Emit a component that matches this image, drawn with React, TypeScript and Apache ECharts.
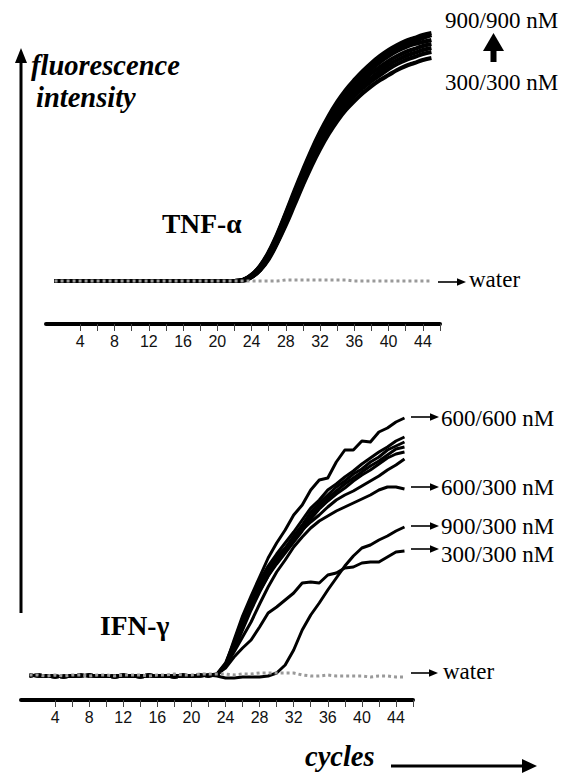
import React, { useEffect, useRef } from "react";
import * as echarts from "echarts";

// PCR cycle numbers (x values)
const cycles = [1, 2, 3, 4, 5, 6, 7, 8, 9, 10, 11, 12, 13, 14, 15, 16, 17, 18, 19, 20, 21, 22, 23, 24, 25, 26, 27, 28, 29, 30, 31, 32, 33, 34, 35, 36, 37, 38, 39, 40, 41, 42, 43, 44, 45];
const tickValues = [4, 6, 8, 10, 12, 14, 16, 18, 20, 22, 24, 26, 28, 30, 32, 34, 36, 38, 40, 42, 44, 46];
const tickLabels = [4, 8, 12, 16, 20, 24, 28, 32, 36, 40, 44];

// TNF-alpha amplification curves (fluorescence, arbitrary units)
const z22 = [0, 0, 0, 0, 0, 0, 0, 0, 0, 0, 0, 0, 0, 0, 0, 0, 0, 0, 0, 0, 0, 0];
const tnf1 = [...z22, 1, 6, 15, 29, 47, 68, 90, 111, 131, 149, 165, 179, 191, 201, 210, 218, 225, 231, 236, 240, 243, 246, 248];
const tnf2 = [...z22, 1, 6, 15, 28, 46, 67, 88, 109, 129, 147, 162, 176, 188, 198, 207, 215, 222, 228, 233, 237, 240, 243, 246];
const tnf3 = [...z22, 1, 5, 14, 27, 45, 66, 87, 108, 128, 146, 161, 175, 186, 196, 204, 212, 219, 225, 230, 234, 237, 239, 241];
const tnf4 = [...z22, 1, 5, 13, 26, 43, 63, 84, 105, 124, 141, 157, 171, 182, 192, 200, 208, 214, 220, 225, 229, 232, 235, 237];
const tnf5 = [...z22, 1, 4, 12, 24, 41, 61, 82, 102, 121, 138, 153, 167, 178, 188, 196, 203, 210, 216, 221, 225, 228, 231, 233];
const tnf6 = [...z22, 1, 4, 11, 23, 39, 58, 79, 99, 118, 135, 150, 164, 175, 185, 193, 200, 206, 212, 217, 221, 224, 227, 229];
const tnf7 = [...z22, 0, 4, 11, 22, 38, 56, 76, 96, 115, 132, 147, 160, 171, 180, 188, 195, 201, 206, 211, 215, 218, 221, 223];
const tnfWater = [0, 0, 0, 0, 0, 0, 0, 0, 0, 0, 0, 0, 0, 0, 0, 0, 0, 0, 0, 0, 0, 0, 0, 0, 0, 0, 0, 1, 1, 1, 1, 1, 1, 1, 1, 0, 0, 0, 0, 0, 0, 0, 0, 0, 0];

// IFN-gamma amplification curves
const b22a = [0, 1, 0, 0, -1, 0, 0, 1, 0, 0, -1, 0, 0, 0, 1, 0, 0, -1, 0, 0, 1, 0];
const b22b = [1, 0, 0, -1, 0, 0, 1, 0, 0, 0, 0, 1, 0, -1, 0, 0, 0, 0, 1, 0, 0, 1];
const ifn600_600 = [...b22a, 1, 11, 36, 60, 80, 99, 118, 133, 146, 161, 171, 186, 196, 198, 214, 226, 226, 235, 234, 244, 248, 254, 258];
const ifnC1 = [...b22b, 2, 13, 34, 58, 78, 95, 110, 122, 133, 144, 156, 168, 176, 186, 192, 199, 205, 212, 218, 224, 229, 235, 239];
const ifnC2 = [...b22a, 2, 12, 31, 54, 74, 91, 106, 119, 128, 140, 151, 164, 173, 181, 189, 195, 202, 207, 214, 219, 226, 230, 234];
const ifnC3 = [...b22b, 1, 11, 29, 51, 71, 88, 103, 115, 126, 136, 148, 160, 170, 178, 185, 192, 198, 204, 210, 215, 221, 227, 229];
const ifnC4 = [...b22a, 1, 10, 27, 49, 68, 85, 100, 112, 123, 134, 145, 157, 167, 175, 182, 188, 195, 201, 206, 212, 218, 222, 224];
const ifnC5 = [...b22b, 1, 9, 26, 46, 66, 84, 100, 114, 126, 137, 146, 154, 161, 169, 176, 181, 185, 190, 195, 200, 206, 211, 217];
const ifn600_300 = [...b22a, 1, 11, 24, 39, 54, 72, 89, 104, 116, 129, 139, 148, 155, 160, 165, 169, 173, 177, 181, 186, 189, 189, 187];
const ifn900_300 = [...b22b, 0, -2, -2, -1, -1, -1, 0, 3, 11, 26, 46, 61, 73, 86, 98, 110, 120, 128, 131, 136, 140, 145, 149];
const ifn300_300 = [...b22a, 2, 8, 19, 28, 36, 49, 63, 69, 76, 83, 93, 94, 93, 101, 103, 108, 109, 113, 114, 114, 119, 124, 125];
const ifnWater = [1, 1, 0, 1, 0, 1, 1, 0, 1, 1, 0, 1, 1, 1, 0, 1, 1, 2, 1, 1, 2, 2, 2, 2, 1, 2, 2, 3, 3, 3, 3, 3, 1, 0, 0, 1, 0, 0, 0, 0, -1, 0, 0, -1, -1];

const tnfSeries = [tnf1, tnf2, tnf3, tnf4, tnf5, tnf6, tnf7];
const ifnSeries = [ifn600_600, ifnC1, ifnC2, ifnC3, ifnC4, ifnC5, ifn600_300, ifn900_300, ifn300_300];

const pairs = (vals: number[]) => vals.map((v, i) => [cycles[i], v]);

const SERIF = '"Liberation Serif", "Times New Roman", serif';

function arrow(x1: number, x2: number, y: number, w = 1.6, hl = 9, hh = 3.8): any[] {
  return [
    { type: "line", shape: { x1, y1: y, x2: x2 - hl + 1, y2: y }, style: { stroke: "#000", lineWidth: w } },
    { type: "polygon", shape: { points: [[x2 - hl, y - hh], [x2 - hl, y + hh], [x2, y]] }, style: { fill: "#000" } },
  ];
}

function label(text: string, x: number, y: number, font: string): any {
  return {
    type: "text",
    style: { text, x, y, font, fill: "#000", textAlign: "left", textVerticalAlign: "middle" },
  };
}

function xAxisCfg(gridIndex: number): any {
  return {
    type: "value",
    gridIndex,
    min: 0,
    max: 46,
    axisLine: { show: true, onZero: false, lineStyle: { color: "#000", width: 4 } },
    axisTick: { show: true, customValues: tickValues, length: 7, lineStyle: { color: "#444", width: 1 } },
    axisLabel: {
      show: true,
      customValues: tickLabels,
      fontSize: 16,
      fontFamily: "Liberation Sans",
      color: "#111",
      margin: 9,
    },
    splitLine: { show: false },
  };
}

export default function App() {
  const ref = useRef<HTMLDivElement>(null);
  useEffect(() => {
    document.body.style.margin = "0";
    const chart = echarts.init(ref.current!, null, { renderer: "svg" });
    const series: any[] = [];
    tnfSeries.forEach((s, i) =>
      series.push({
        name: "TNF " + i,
        type: "line",
        xAxisIndex: 0,
        yAxisIndex: 0,
        data: pairs(s),
        symbol: "none",
        smooth: 0.4,
        clip: false,
        lineStyle: { color: "#000", width: 4.2 },
        z: 2,
      })
    );
    series.push({
      name: "TNF water",
      type: "line",
      xAxisIndex: 0,
      yAxisIndex: 0,
      data: pairs(tnfWater),
      symbol: "none",
      clip: false,
      lineStyle: { color: "#9a9a9a", width: 3, type: "dotted" },
      z: 3,
    });
    ifnSeries.forEach((s, i) =>
      series.push({
        name: "IFN " + i,
        type: "line",
        xAxisIndex: 1,
        yAxisIndex: 1,
        data: pairs(s),
        symbol: "none",
        clip: false,
        lineStyle: { color: "#000", width: 3, join: "round" },
        z: 2,
      })
    );
    series.push({
      name: "IFN water",
      type: "line",
      xAxisIndex: 1,
      yAxisIndex: 1,
      data: pairs(ifnWater),
      symbol: "none",
      clip: false,
      lineStyle: { color: "#9a9a9a", width: 3, type: "dotted" },
      z: 3,
    });

    const bi = `bold italic 28.5px ${SERIF}`;
    const b = `bold 27.5px ${SERIF}`;
    const r = `23px ${SERIF}`;

    const graphic: any[] = [
      { type: "line", shape: { x1: 21, y1: 613, x2: 21, y2: 60 }, style: { stroke: "#000", lineWidth: 3 } },
      { type: "polygon", shape: { points: [[15, 63], [27, 63], [21, 48]] }, style: { fill: "#000" } },
      label("fluorescence", 31, 65, bi),
      label("intensity", 36, 97, bi),
      label("TNF-α", 162, 223, b),
      label("IFN-γ", 100, 625, b),
      label("cycles", 305, 756, bi),
      ...arrow(391, 537, 766, 3, 15, 7),
      label("900/900 nM", 445, 20, r),
      label("300/300 nM", 445, 82, r),
      { type: "rect", shape: { x: 490.5, y: 50, width: 6, height: 12 }, style: { fill: "#000" } },
      { type: "polygon", shape: { points: [[483, 51], [504, 51], [493.5, 33]] }, style: { fill: "#000" } },
      ...arrow(438, 466, 282),
      label("water", 469, 279, r),
      ...arrow(411, 439, 417),
      label("600/600 nM", 441, 418, r),
      ...arrow(411, 439, 487),
      label("600/300 nM", 441, 487, r),
      ...arrow(411, 439, 526),
      label("900/300 nM", 441, 526, r),
      ...arrow(411, 439, 549),
      label("300/300 nM", 441, 554, r),
      ...arrow(411, 438, 673),
      label("water", 443, 671, r),
    ];

    chart.setOption({
      animation: false,
      backgroundColor: "#fff",
      grid: [
        { left: 46, top: 33, width: 394, height: 291 },
        { left: 21, top: 400, width: 392, height: 300 },
      ],
      xAxis: [xAxisCfg(0), xAxisCfg(1)],
      yAxis: [
        { type: "value", gridIndex: 0, min: -43, max: 248, show: false, splitLine: { show: false } },
        { type: "value", gridIndex: 1, min: -24, max: 276, show: false, splitLine: { show: false } },
      ],
      series,
      graphic,
    });
    return () => chart.dispose();
  }, []);
  return <div ref={ref} style={{ width: 572, height: 775 }} />;
}
